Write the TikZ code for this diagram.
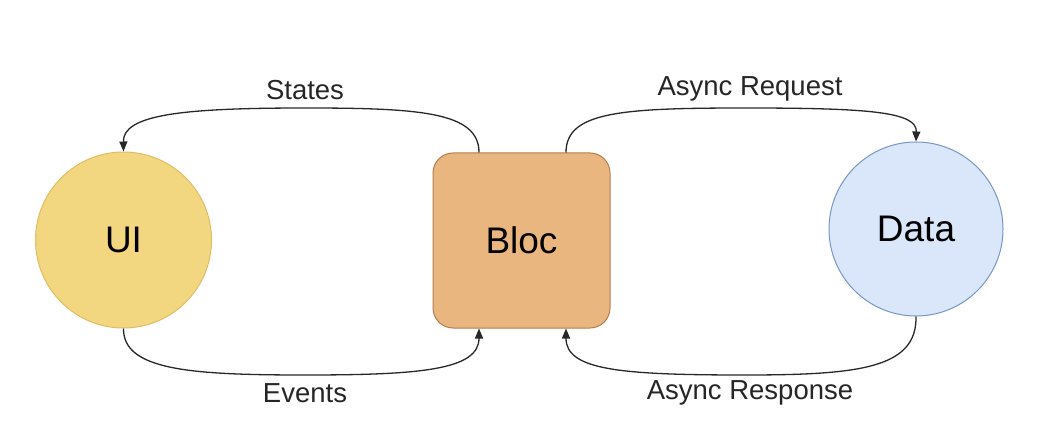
\documentclass[tikz,border=0pt]{standalone}
\usepackage{fontspec}
\setmainfont{Liberation Sans}
\usetikzlibrary{arrows.meta,calc}
\definecolor{uifill}{RGB}{242,214,128}
\definecolor{uidraw}{RGB}{222,190,100}
\definecolor{blocfill}{RGB}{234,182,128}
\definecolor{blocdraw}{RGB}{180,125,80}
\definecolor{datafill}{RGB}{218,230,250}
\definecolor{datadraw}{RGB}{120,150,200}
\definecolor{linecol}{RGB}{40,40,40}
\tikzset{
  big/.style={font=\fontsize{37}{40}\selectfont},
  lbl/.style={font=\fontsize{27.5}{30}\selectfont, text=black!85, inner sep=0pt},
  conn/.style={draw=linecol, line width=1.3pt, -{Triangle[length=10pt,width=8pt]}},
}
\begin{document}
\begin{tikzpicture}[x=1pt,y=-1pt]
\useasboundingbox (0,0) rectangle (1062,430);
\fill[white] (0,0) rectangle (1062,430);
\node[circle, fill=uifill, draw=uidraw, line width=1pt, minimum size=176pt, inner sep=0pt, big] (ui) at (123.5,240) {UI};
\node[rectangle, rounded corners=20pt, fill=blocfill, draw=blocdraw, line width=1pt, minimum width=177pt, minimum height=175pt, inner sep=0pt, big] (bloc) at (521.5,240.5) {Bloc};
\node[circle, fill=datafill, draw=datadraw, line width=1pt, minimum size=174pt, inner sep=0pt, big] (data) at (916,229) {Data};
\coordinate (btl) at ($(bloc.north)+(-42.5,0)$);
\coordinate (btr) at ($(bloc.north)+(44.5,0)$);
\coordinate (bbl) at ($(bloc.south)+(-42.5,0)$);
\coordinate (bbr) at ($(bloc.south)+(44.5,0)$);
% States
\draw[conn] (btl) .. controls (479,112) and (420,108) .. (305,108) .. controls (180,108) and (123,115) .. (ui.north);
\node[lbl] (states) at (305,90) {States};
% Events
\draw[conn] (ui.south) .. controls (123,370) and (190,375) .. (305,375) .. controls (420,375) and (479,370) .. (bbl);
\node[lbl] (events) at (305,393) {Events};
% Async Request
\draw[conn] (btr) .. controls (566,112) and (620,108) .. (745,108) .. controls (870,108) and (917,112) .. (data.north);
\node[lbl] (req) at (750,89) {Async Request};
% Async Response
\draw[conn] (data.south) .. controls (917,368) and (860,375) .. (745,375) .. controls (620,375) and (566,370) .. (bbr);
\node[lbl] (resp) at (750,393) {Async Response};
\end{tikzpicture}
\end{document}
